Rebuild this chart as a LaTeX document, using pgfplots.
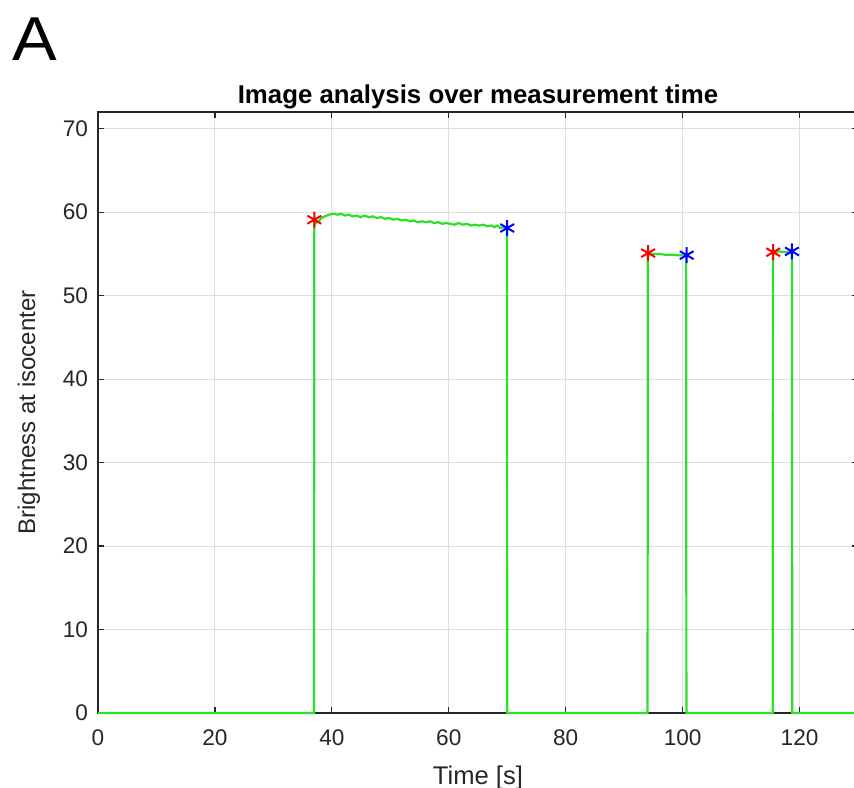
\documentclass[border=0pt]{standalone}
\usepackage{fontspec}
\setmainfont{Liberation Sans}
\usepackage{pgfplots}
\pgfplotsset{compat=1.18}
\definecolor{mgreen}{RGB}{40,225,40}
\definecolor{axgray}{RGB}{38,38,38}
\definecolor{gridgray}{RGB}{222,222,222}
\begin{document}
\begin{tikzpicture}[x=1pt,y=1pt]
\path[use as bounding box] (-49,-37) rectangle (378,356.5);
\begin{axis}[
  at={(0,0)}, anchor=south west,
  scale only axis, width=380pt, height=300.5pt,
  xmin=0, xmax=130, ymin=0, ymax=72,
  xtick={0,20,...,120}, ytick={0,10,...,70},
  grid=major,
  major grid style={gridgray, line width=0.5pt},
  axis line style={axgray, line width=0.6pt},
  tick style={axgray, line width=0.6pt},
  tick align=inside, major tick length=3pt,
  xtick pos=both, ytick pos=both,
  tick label style={font=\fontsize{11.3}{13}\selectfont, text=axgray},
  /pgf/number format/assume math mode=true,
  xticklabel style={yshift=-5pt},
  yticklabel style={xshift=-1.5pt},
  xlabel={Time [s]}, ylabel={Brightness at isocenter},
  xlabel style={font=\fontsize{12.8}{14}\selectfont, text=axgray, yshift=-3pt},
  ylabel style={font=\fontsize{12}{14}\selectfont, text=axgray, yshift=4.5pt},
  title={\textbf{Image analysis over measurement time}},
  title style={font=\fontsize{12.9}{14}\selectfont, yshift=-8pt},
  clip=false,
]
\addplot[mgreen, line width=1.1pt] coordinates {
(0,0) (36.95,0) (37.0,59.0) (37.3,58.7) (37.7,58.9) (38.2,59.3) (38.8,59.5) (39.5,59.7) (40.3,59.8) (41.0,59.7) (41.6,59.8) (42.2,59.6) (42.9,59.7) (43.5,59.5) (44.2,59.6) (44.9,59.4) (45.6,59.6) (46.3,59.4) (47.0,59.5) (47.7,59.3) (48.4,59.4) (49.1,59.2) (49.8,59.3) (50.5,59.1) (51.2,59.2) (51.9,59.0) (52.6,59.1) (53.3,58.9) (54.0,59.0) (54.7,58.8) (55.4,58.9) (56.1,58.8) (56.8,58.9) (57.5,58.7) (58.2,58.8) (58.9,58.6) (59.6,58.7) (60.3,58.6) (61.0,58.5) (61.7,58.7) (62.4,58.5) (63.1,58.6) (63.8,58.4) (64.5,58.5) (65.2,58.4) (65.9,58.5) (66.6,58.3) (67.3,58.4) (67.8,58.2) (68.3,58.4) (68.8,58.1) (69.3,58.2) (69.95,58.0) (70.0,0)
(94.0,0) (94.05,55.0) (95,55.0) (96,55.0) (97,54.9) (98,54.9) (99,54.85) (100.6,54.8) (100.65,0)
(115.4,0) (115.45,55.2) (116.5,55.3) (117.5,55.2) (118.7,55.3) (118.75,0) (130,0)
};
\addplot[only marks, red, mark=asterisk, mark size=4pt, line width=1pt] coordinates {(37.0,59.1) (94.1,55.1) (115.5,55.2)};
\addplot[only marks, blue, mark=asterisk, mark size=4pt, line width=1pt] coordinates {(70.0,58.1) (100.7,54.85) (118.7,55.3)};
\end{axis}
\node[font=\fontsize{31}{33}\selectfont, anchor=center] at (-31.5,337) {\scalebox{1.08}[1]{A}};
\end{tikzpicture}
\end{document}
